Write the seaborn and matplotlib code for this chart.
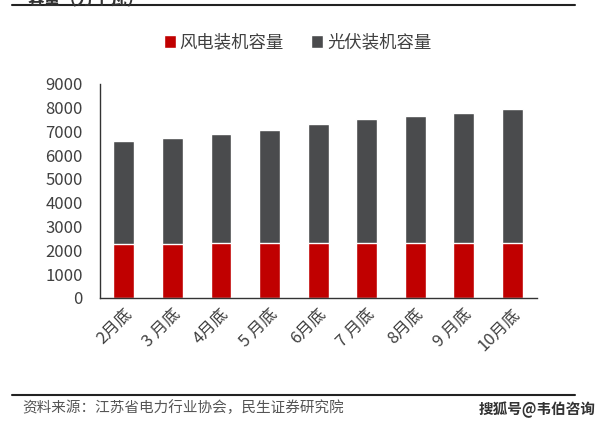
import matplotlib
matplotlib.use("Agg")
import matplotlib.pyplot as plt
import numpy as np
import pandas as pd
import seaborn as sns

months = ["2月底", "3 月底", "4月底", "5 月底", "6月底", "7 月底", "8月底", "9 月底", "10月底"]
wind = [2270, 2280, 2285, 2290, 2295, 2300, 2300, 2305, 2310]
solar = [4340, 4430, 4625, 4790, 5025, 5210, 5370, 5485, 5625]

sns.set_theme(style="white")
plt.rcParams['font.family'] = ['Noto Sans CJK SC', 'DejaVu Sans']

red = "#C00000"
gray = "#4A4B4D"
txt = "#404040"

df = pd.DataFrame({"month": months, "wind": wind, "solar": solar})
df["total"] = df["wind"] + df["solar"]

fig = plt.figure(figsize=(6.07, 4.26), dpi=100)
ax = fig.add_axes([0.164, 0.301, 0.72, 0.502])

# gray = total height, red drawn on top of it
sns.barplot(x="month", y="total", data=df, color=gray, width=0.43, saturation=1, ax=ax, label="光伏装机容量")
sns.barplot(x="month", y="wind", data=df, color=red, width=0.43, saturation=1, ax=ax, label="风电装机容量")
h, l = ax.get_legend_handles_labels()
if ax.get_legend() is not None:
    ax.get_legend().remove()

ax.set_xlim(-0.5, 8.5)
ax.set_ylim(0, 9000)
ax.set_yticks(np.arange(0, 9001, 1000))
ax.set_xlabel("")
ax.set_ylabel("")
ax.tick_params(axis="y", labelsize=12, colors=txt, length=0, pad=12)
ax.tick_params(axis="x", labelsize=12, colors=txt, length=0, pad=6)
plt.setp(ax.get_xticklabels(), rotation=45, ha="right", rotation_mode="anchor")
for s in ["top", "right"]:
    ax.spines[s].set_visible(False)
for s in ["left", "bottom"]:
    ax.spines[s].set_color("#333333")
    ax.spines[s].set_linewidth(1.0)

order = [l.index("风电装机容量"), l.index("光伏装机容量")]
fig.legend([h[i] for i in order], [l[i] for i in order], loc="center", bbox_to_anchor=(0.49, 0.90),
           ncol=2, frameon=False, fontsize=12.5, handlelength=0.7, handleheight=0.7,
           handletextpad=0.2, columnspacing=1.6, labelcolor=txt)

# header/footer decorations
fig.add_artist(plt.Line2D([0.019, 0.947], [0.988, 0.988], color="#222222", lw=1.5))
fig.text(0.045, 1.0, "容量（万千瓦）", fontsize=12, fontweight="bold", color="#333333", va="center")
fig.add_artist(plt.Line2D([0.019, 0.947], [0.073, 0.073], color="#222222", lw=1.5))
fig.text(0.037, 0.042, "资料来源：江苏省电力行业协会，民生证券研究院", fontsize=10.5, color="#555555", va="center")
fig.text(0.982, 0.038, "搜狐号@韦伯咨询", fontsize=10.5, fontweight="bold", color="#333333", va="center", ha="right")

fig.savefig("out.png", dpi=100)
